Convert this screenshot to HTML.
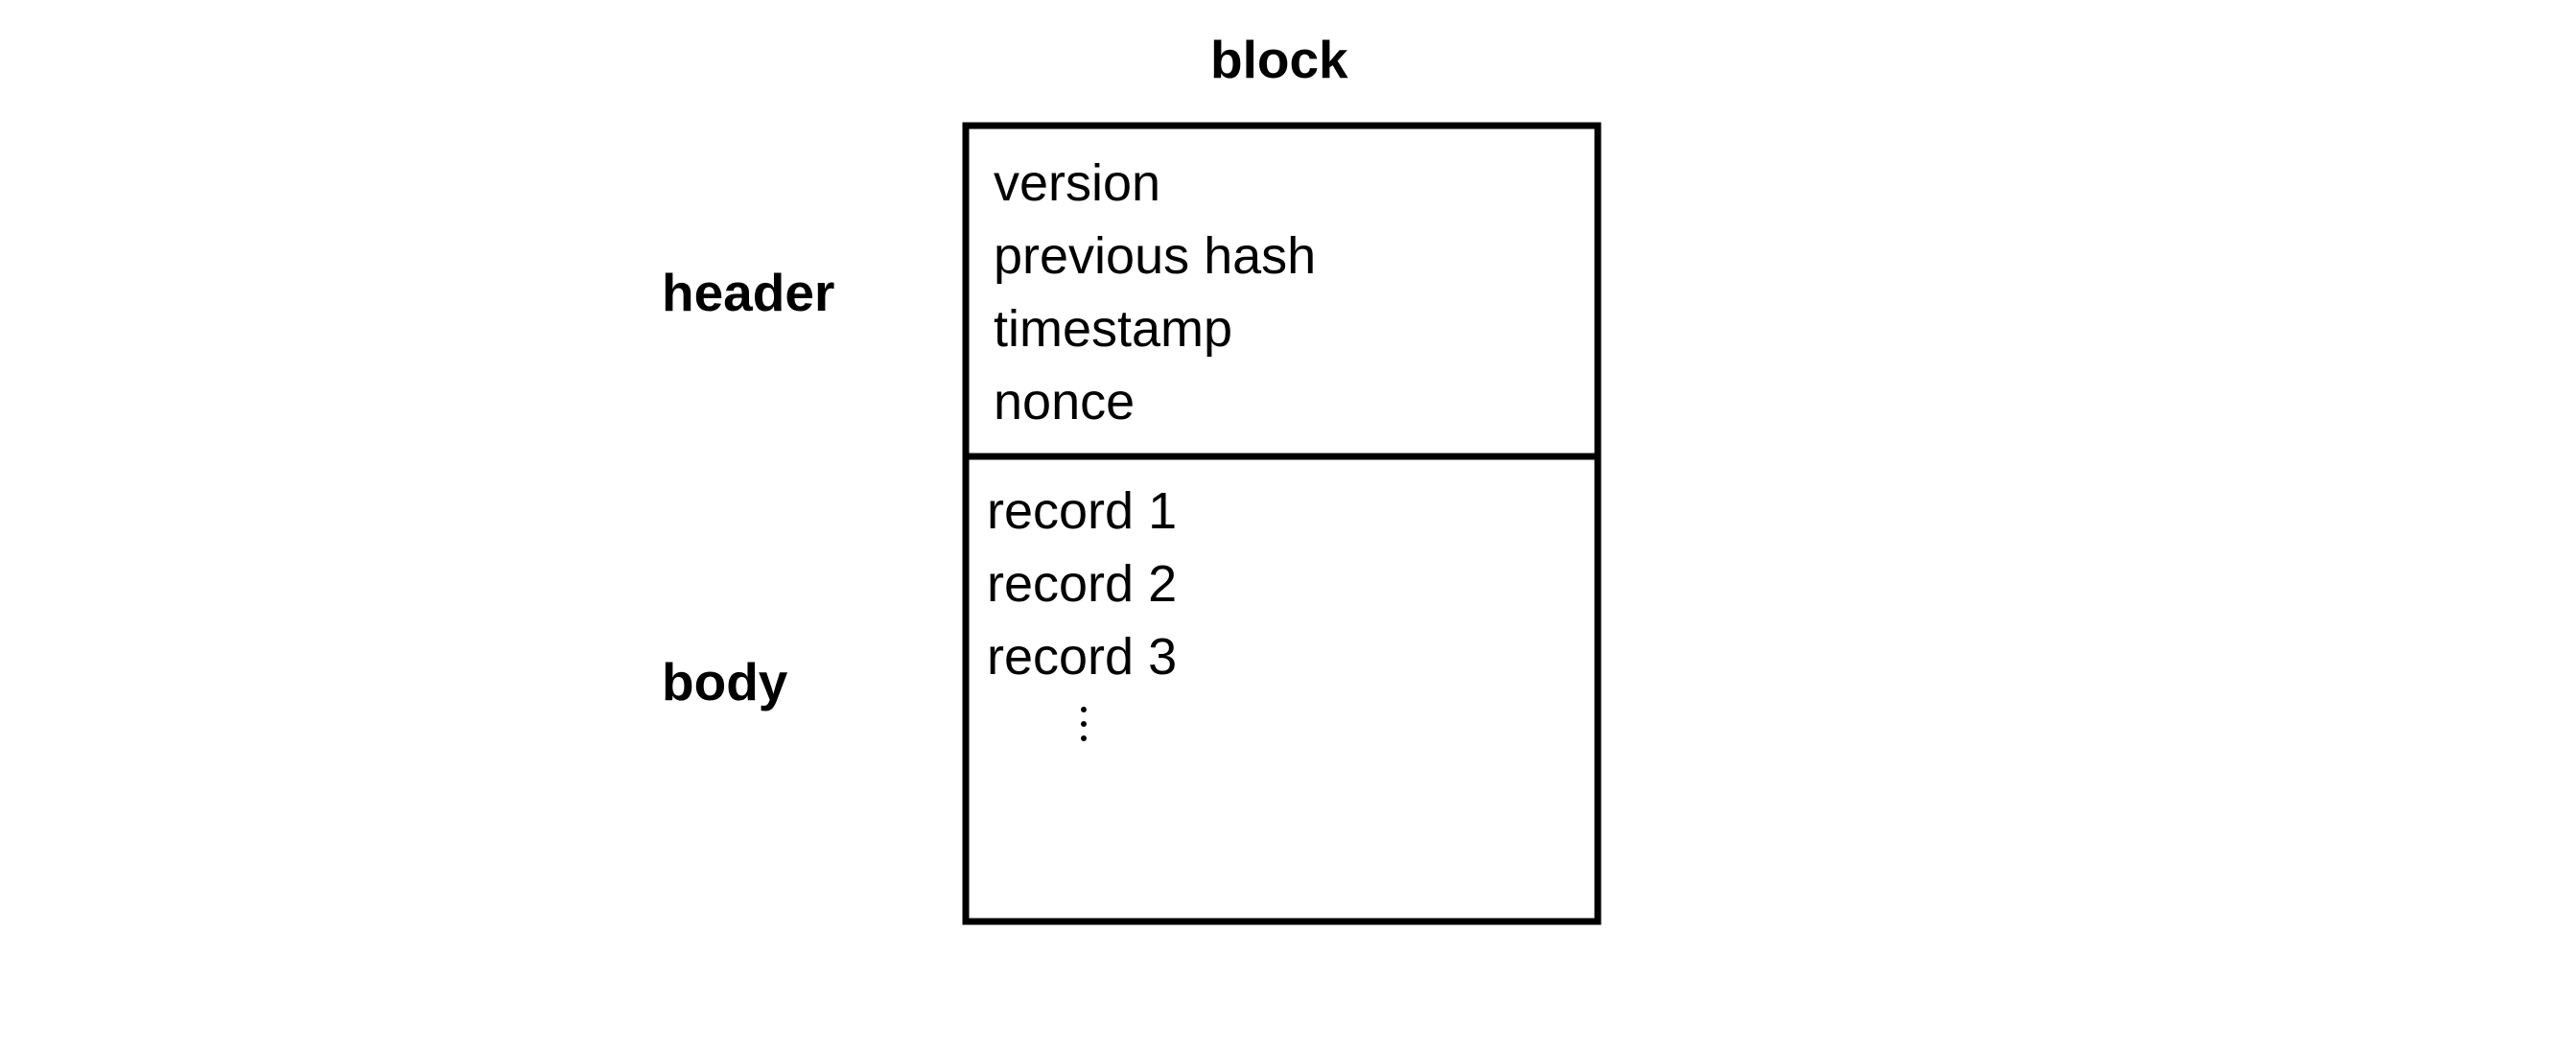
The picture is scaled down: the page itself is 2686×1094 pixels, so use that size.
<!DOCTYPE html>
<html><head><meta charset="utf-8"><style>
html,body{margin:0;padding:0;background:#fff;}
svg{display:block;}
text{font-family:"Liberation Sans",Arial,sans-serif;fill:#000;}
.b{font-weight:bold;font-size:55px;}
.r{font-size:54px;}
</style></head><body>
<svg width="2686" height="1094" viewBox="0 0 2686 1094" xmlns="http://www.w3.org/2000/svg">
<rect width="2686" height="1094" fill="#fff"/>
<text class="b" x="1262" y="81">block</text>
<text class="b" x="690" y="324">header</text>
<text class="b" x="690" y="730">body</text>
<rect x="1007" y="131" width="659" height="830" fill="none" stroke="#000" stroke-width="7"/>
<line x1="1007" y1="476" x2="1666" y2="476" stroke="#000" stroke-width="7"/>
<text class="r" x="1036" y="209">version</text>
<text class="r" x="1036" y="285">previous hash</text>
<text class="r" x="1036" y="361">timestamp</text>
<text class="r" x="1036" y="437">nonce</text>
<text class="r" x="1029" y="551">record 1</text>
<text class="r" x="1029" y="627">record 2</text>
<text class="r" x="1029" y="703">record 3</text>
<circle cx="1130" cy="740" r="3" fill="#000"/>
<circle cx="1130" cy="755" r="3" fill="#000"/>
<circle cx="1130" cy="770" r="3" fill="#000"/>
</svg>
</body></html>
